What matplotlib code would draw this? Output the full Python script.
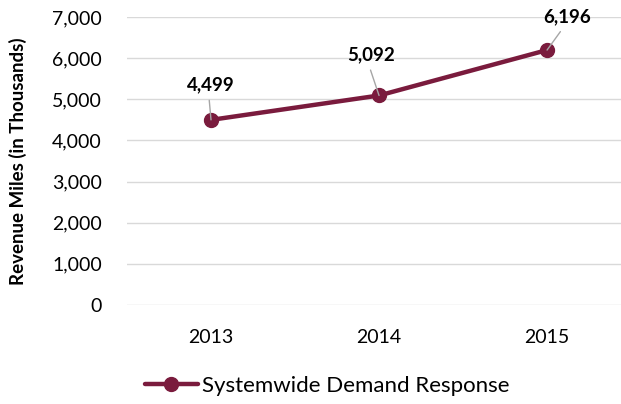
import matplotlib.pyplot as plt
from matplotlib.ticker import FuncFormatter

years = ['2013', '2014', '2015']
miles = [4499, 5092, 6196]
label_x = [0.0, 0.95, 2.12]
label_y = [5350, 6080, 7000]
yticks = [0, 1000, 2000, 3000, 4000, 5000, 6000, 7000]

maroon = '#7A1B3D'
plt.rcParams['font.family'] = ['Lato', 'DejaVu Sans']

fig = plt.figure(figsize=(6.21, 4.04), dpi=100)
ax = fig.add_axes([0.2045, 0.245, 0.7955, 0.713])

x = list(range(len(years)))
ax.plot(x, miles, color=maroon, lw=3.2, marker='o', ms=10,
        label='Systemwide Demand Response', solid_capstyle='round', zorder=3)

for xi, yi, tx, ty in zip(x, miles, label_x, label_y):
    ax.annotate(f'{yi:,}', xy=(xi, yi), xytext=(tx, ty), textcoords='data',
                ha='center', va='center', fontsize=13.5, fontweight='bold',
                arrowprops=dict(arrowstyle='-', color='#a6a6a6', lw=1,
                                shrinkA=3, shrinkB=0, relpos=(0.45, 0)),
                annotation_clip=False, zorder=4)

ax.set_xlim(-0.5, 2.44)
ax.set_ylim(0, 7000)
ax.set_xticks(x)
ax.set_xticklabels(years)
ax.set_yticks(yticks)
ax.yaxis.set_major_formatter(FuncFormatter(lambda v, p: f'{int(v):,}'))
ax.grid(axis='y', color='#d9d9d9', lw=1)
ax.set_axisbelow(True)
for s in ax.spines.values():
    s.set_visible(False)
ax.tick_params(axis='both', length=0, labelsize=14, colors='black')
ax.tick_params(axis='x', pad=17)
ax.tick_params(axis='y', pad=18)
ax.set_ylabel('Revenue Miles (in Thousands)', fontsize=13.5, fontweight='bold')
ax.yaxis.set_label_coords(-0.203, 0.5)

fig.legend(loc='center', bbox_to_anchor=(0.527, 0.045), frameon=False, fontsize=16,
           handlelength=2.4, handletextpad=0.2)

fig.savefig('out.png', dpi=100)
